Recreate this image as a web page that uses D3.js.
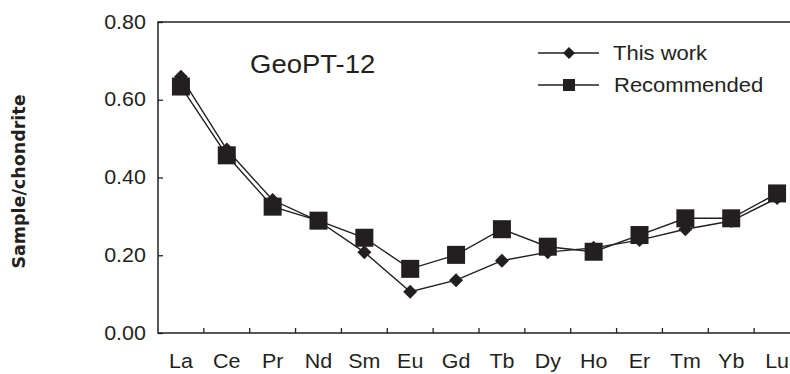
<!DOCTYPE html>
<html>
<head>
<meta charset="utf-8">
<script src="https://cdn.jsdelivr.net/npm/d3@7"></script>
<style>
  body { margin: 0; background: #fff; }
  svg { display: block; }
  text { font-family: "Liberation Sans", Arial, sans-serif; fill: #231f20; }
</style>
</head>
<body>
<svg id="chart"></svg>
<script>
// REE values normalised to chondrite
const elements = ['La', 'Ce', 'Pr', 'Nd', 'Sm', 'Eu', 'Gd', 'Tb', 'Dy', 'Ho', 'Er', 'Tm', 'Yb', 'Lu'];
const thisWork = [0.659, 0.472, 0.342, 0.288, 0.208, 0.106, 0.136, 0.186, 0.208, 0.219, 0.239, 0.267, 0.288, 0.347];
const recommended = [0.634, 0.457, 0.325, 0.289, 0.245, 0.165, 0.201, 0.267, 0.222, 0.209, 0.252, 0.295, 0.295, 0.359];
const yTicks = [0, 0.2, 0.4, 0.6, 0.8];

const ink = '#231f20';
const stretch = 'scale(1.1,1)';   // the original figure is a little wide

const W = 790, H = 374;
// plot box (right side falls outside the picture)
let plot = { left: 158, right: 800, top: 22, bottom: 333 };

let svg = d3.select('#chart').attr('width', W).attr('height', H);

let x = d3.scaleBand().domain(elements).range([plot.left, plot.right]);
let y = d3.scaleLinear().domain([0, 0.8]).range([plot.bottom, plot.top]);

// frame
svg.append('rect')
  .attr('x', plot.left).attr('y', plot.top)
  .attr('width', plot.right - plot.left).attr('height', plot.bottom - plot.top)
  .attr('fill', 'none').attr('stroke', ink).attr('stroke-width', 1.5);

// y axis
let yAxis = svg.append('g')
  .attr('transform', `translate(${plot.left},0)`)
  .call(d3.axisLeft(y).tickValues(yTicks).tickFormat(d3.format('.2f'))
    .tickSizeInner(-5).tickSizeOuter(0).tickPadding(11));
yAxis.select('.domain').remove();
yAxis.selectAll('line').attr('stroke', ink).attr('stroke-width', 1.3);
yAxis.selectAll('text')
  .attr('fill', ink).style('font-size', '19.5px')
  .attr('transform', stretch);
yAxis.attr('font-family', null);

// x axis labels
let xAxis = svg.append('g')
  .attr('transform', `translate(0,${plot.bottom})`)
  .call(d3.axisBottom(x).tickSize(0).tickPadding(21));
xAxis.select('.domain').remove();
xAxis.selectAll('text')
  .attr('fill', ink).style('font-size', '19.5px')
  .attr('transform', stretch);
xAxis.attr('font-family', null);

// category separators pointing up from the axis
svg.append('g').selectAll('line')
  .data(elements.slice(1))
  .join('line')
  .attr('x1', d => x(d)).attr('x2', d => x(d))
  .attr('y1', plot.bottom).attr('y2', plot.bottom - 5)
  .attr('stroke', ink).attr('stroke-width', 1.3);

// axis title
svg.append('text')
  .attr('transform', `translate(25,${(plot.top + plot.bottom) / 2 + 4}) rotate(-90)`)
  .attr('text-anchor', 'middle')
  .style('font-family', '"DejaVu Sans", sans-serif')
  .style('font-weight', 'bold')
  .style('font-size', '17.5px')
  .text('Sample/chondrite');

// sample name
svg.append('text')
  .attr('transform', `translate(250,73) ${stretch}`)
  .style('font-size', '25px')
  .text('GeoPT-12');

let cx = d => x(d) + x.bandwidth() / 2;

let line = d3.line()
  .x(d => cx(d.el))
  .y(d => y(d.v));

let diamond = r => `M0,${-r}L${r},0L0,${r}L${-r},0Z`;

let series = [
  { name: 'This work', values: thisWork, shape: 'diamond' },
  { name: 'Recommended', values: recommended, shape: 'square' }
];

series.forEach(s => {
  let pts = elements.map((el, i) => ({ el: el, v: s.values[i] }));

  svg.append('path')
    .attr('fill', 'none')
    .attr('stroke', ink)
    .attr('stroke-width', 1.4)
    .attr('d', line(pts));

  if (s.shape === 'diamond') {
    svg.append('g').selectAll('path')
      .data(pts)
      .join('path')
      .attr('transform', d => `translate(${cx(d.el)},${y(d.v)})`)
      .attr('d', diamond(7))
      .attr('fill', ink);
  } else {
    svg.append('g').selectAll('rect')
      .data(pts)
      .join('rect')
      .attr('x', d => cx(d.el) - 9)
      .attr('y', d => y(d.v) - 9)
      .attr('width', 18).attr('height', 18)
      .attr('fill', ink);
  }
});

// legend
let legend = svg.append('g');
series.forEach((s, i) => {
  let ly = 53 + i * 32;
  let g = legend.append('g').attr('transform', `translate(538,${ly})`);
  g.append('line')
    .attr('x1', 0).attr('x2', 61)
    .attr('stroke', ink).attr('stroke-width', 1.4);
  if (s.shape === 'diamond') {
    g.append('path').attr('transform', 'translate(31,0)').attr('d', diamond(6)).attr('fill', ink);
  } else {
    g.append('rect').attr('x', 25).attr('y', -6).attr('width', 12).attr('height', 12).attr('fill', ink);
  }
  g.append('text')
    .attr('transform', `translate(${75 + i},7) ${stretch}`)
    .style('font-size', '20px')
    .text(s.name);
});
</script>
</body>
</html>
